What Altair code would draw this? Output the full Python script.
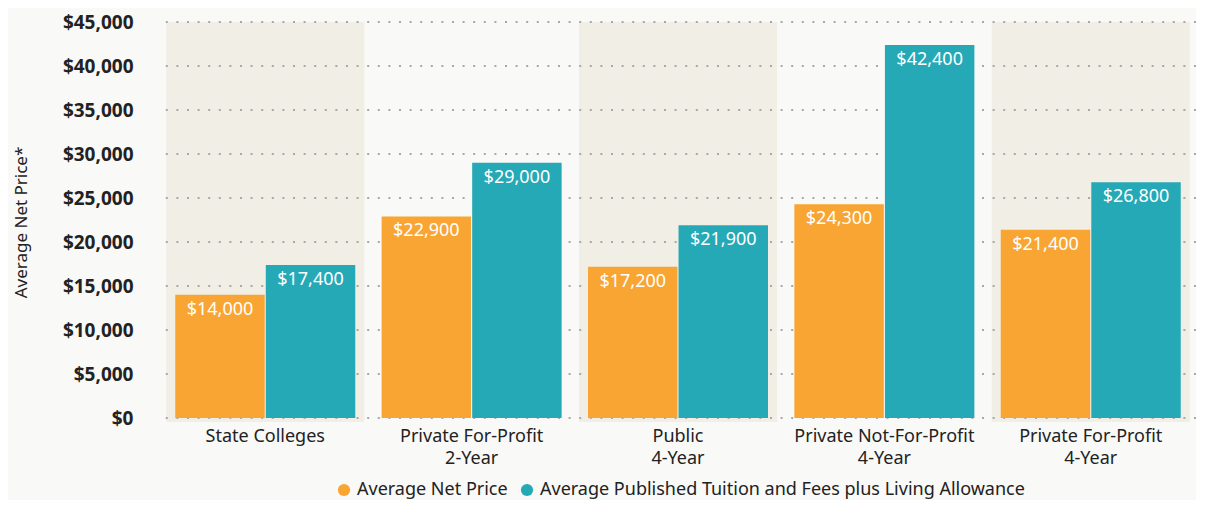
import altair as alt
import pandas as pd

categories = [
    "State Colleges",
    "Private For-Profit\n2-Year",
    "Public\n4-Year",
    "Private Not-For-Profit\n4-Year",
    "Private For-Profit\n4-Year",
]
series = ["Average Net Price", "Average Published Tuition and Fees plus Living Allowance"]
net_price = [14000, 22900, 17200, 24300, 21400]
published = [17400, 29000, 21900, 42400, 26800]
shaded = [True, False, True, False, True]
grid_ticks = [0, 5000, 10000, 15000, 20000, 25000, 30000, 35000, 40000, 45000]

ORANGE = "#f9a533"
TEAL = "#26a9b6"
BAND = "#f1eee6"
BG = "#f9f9f7"
FONT = "Noto Sans"

rows = []
for c, a, b in zip(categories, net_price, published):
    rows.append({"cat": c, "series": series[0], "value": a})
    rows.append({"cat": c, "series": series[1], "value": b})
df = pd.DataFrame(rows)
df["label"] = df["value"].map(lambda v: "${:,}".format(v))

band_df = pd.DataFrame({"cat": [c for c, s in zip(categories, shaded) if s]})
grid_df = pd.DataFrame({"value": grid_ticks})

xscale = alt.Scale(domain=categories, paddingInner=0.04, paddingOuter=0.03)
yscale = alt.Scale(domain=[0, 45000], nice=False)

x_enc = alt.X(
    "cat:N",
    scale=xscale,
    sort=categories,
    title=None,
    axis=alt.Axis(
        labelExpr="split(datum.label, '\\n')",
        labelAngle=0,
        labelFont=FONT,
        labelFontSize=18,
        labelColor="#222222",
        labelLineHeight=22,
        labelPadding=9,
        labelLimit=400,
        domain=False,
        ticks=False,
        grid=False,
        labelBaseline="top",
    ),
)

y_enc = alt.Y(
    "value:Q",
    scale=yscale,
    title="Average Net Price*",
    axis=alt.Axis(
        values=grid_ticks,
        format="$,.0f",
        labelFont=FONT,
        labelFontSize=19,
        labelFontWeight="bold",
        labelColor="#222222",
        labelPadding=27,
        domain=False,
        ticks=False,
        grid=False,
        titleFont=FONT,
        titleFontSize=17,
        titleFontWeight="normal",
        titleColor="#222222",
        titleX=-139,
        titleY=200,
        titleAngle=270,
        titleAlign="center",
        titleBaseline="middle",
    ),
)

band = alt.Chart(band_df).mark_rect(color=BAND).encode(
    x=x_enc,
    y=alt.value(0),
    y2=alt.value(400),
)

grid = alt.Chart(grid_df).mark_rule(
    color="#a8a8a8", strokeDash=[2, 8.6], strokeWidth=2
).encode(y=y_enc)

xoff = alt.XOffset("series:N", sort=series, scale=alt.Scale(paddingInner=0.012, paddingOuter=0.1))

bars = alt.Chart(df).mark_bar().encode(
    x=x_enc,
    xOffset=xoff,
    y=y_enc,
    color=alt.Color(
        "series:N",
        sort=series,
        scale=alt.Scale(domain=series, range=[ORANGE, TEAL]),
        legend=alt.Legend(
            title=None,
            orient="none",
            direction="horizontal",
            legendX=175,
            legendY=459,
            symbolType="circle",
            symbolSize=150,
            symbolStrokeWidth=0,
            labelFont=FONT,
            labelFontSize=18,
            labelColor="#222222",
            labelLimit=800,
            columnPadding=10,
            symbolOffset=0,
        ),
    ),
)

labels = alt.Chart(df).mark_text(
    color="white", font=FONT, fontSize=18, baseline="middle", dy=15
).encode(
    x=x_enc,
    xOffset=xoff,
    y=y_enc,
    text="label:N",
)

chart = (
    alt.layer(band, grid, bars, labels)
    .properties(
        width=1036,
        height=396,
        autosize=alt.AutoSizeParams(type="none"),
        padding={"left": 152, "top": 14, "right": 0, "bottom": 82},
        background=BG,
    )
    .configure_view(stroke=None)
)

chart.save("out.html", embed_options={"renderer": "svg", "actions": False})
